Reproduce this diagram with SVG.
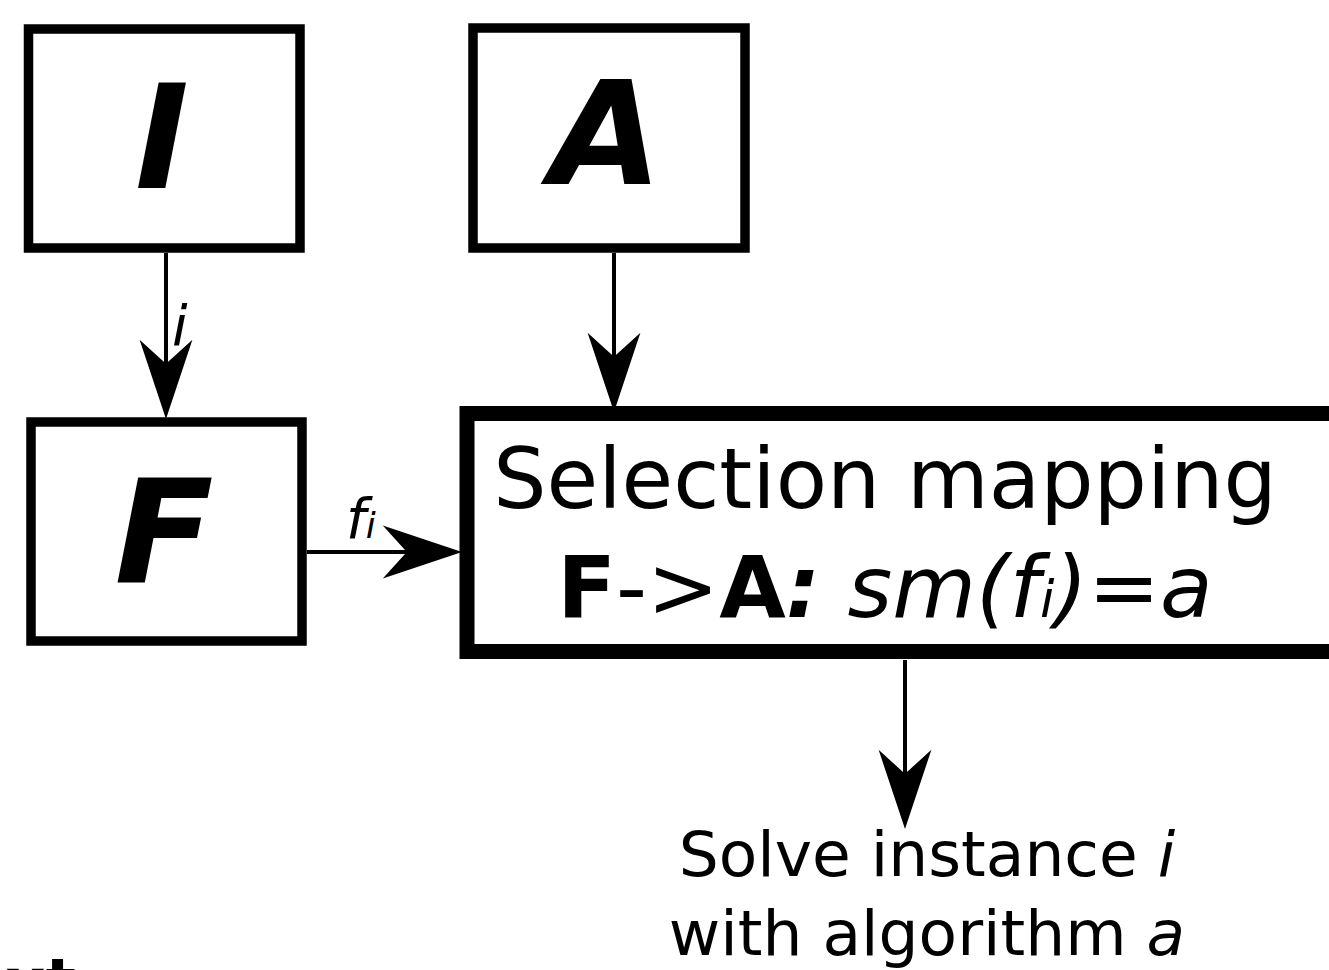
<svg xmlns="http://www.w3.org/2000/svg" width="1329" height="970" viewBox="0 0 1329 970">
<style>
.box{fill:#fff;stroke:#000;stroke-width:9.5}
.big{fill:none;stroke:#000;stroke-width:15}
.conn{stroke:#000;stroke-width:4;fill:none}
.t{font-family:"DejaVu Sans",Verdana,sans-serif;fill:#000}
.letter{font-family:"DejaVu Sans",Verdana,sans-serif;font-weight:bold;font-style:italic;font-size:145px;text-anchor:middle;fill:#000}
</style>
<defs>
<marker id="ah" markerUnits="userSpaceOnUse" markerWidth="90" markerHeight="60" viewBox="-50 -25 72 50" refX="0" refY="0" orient="auto">
<path d="M20,0 L-46,-22 L-26,0 L-46,22 Z" fill="#000"/>
</marker>
</defs>
<rect width="1329" height="970" fill="#fff"/>
<g id="connectors">
<line class="conn" x1="166" y1="253" x2="166" y2="395" marker-end="url(#ah)"/>
<line class="conn" x1="614" y1="253" x2="614" y2="388" marker-end="url(#ah)"/>
<line class="conn" x1="307" y1="552" x2="438" y2="552" marker-end="url(#ah)"/>
<line class="conn" x1="905" y1="660" x2="905" y2="805" marker-end="url(#ah)"/>
<text class="t" x="172" y="345" font-size="56" font-style="italic">i</text>
<text class="t" x="346" y="538" font-size="56" font-style="italic">f<tspan font-size="36">i</tspan></text>
</g>
<g id="node-I">
<rect class="box" x="28.5" y="29" width="271.5" height="219"/>
<text class="letter" x="162" y="188">I</text>
</g>
<g id="node-A">
<rect class="box" x="473" y="28" width="272" height="220"/>
<text class="letter" x="606" y="184">A</text>
</g>
<g id="node-F">
<rect class="box" x="31" y="422" width="271" height="219"/>
<text class="letter" x="164" y="583">F</text>
</g>
<g id="node-selection">
<rect class="big" x="467" y="413.5" width="900" height="238"/>
<text class="t" x="885" y="508" font-size="84" text-anchor="middle">Selection mapping</text>
<text class="t" x="885" y="617" font-size="86" text-anchor="middle"><tspan font-weight="bold">F</tspan>-&gt;<tspan font-weight="bold">A</tspan><tspan font-weight="bold" font-style="italic">:</tspan><tspan font-style="italic"> sm(f<tspan font-size="52">i</tspan>)=a</tspan></text>
</g>
<g id="node-solve">
<text class="t" x="927" y="876" font-size="63" text-anchor="middle">Solve instance <tspan font-style="italic">i</tspan></text>
<text class="t" x="927" y="955" font-size="63" text-anchor="middle">with algorithm <tspan font-style="italic">a</tspan></text>
</g>
<g id="cutoff">
<text class="t" x="5" y="1003" font-size="63" font-weight="bold">xt</text>
</g>
</svg>
